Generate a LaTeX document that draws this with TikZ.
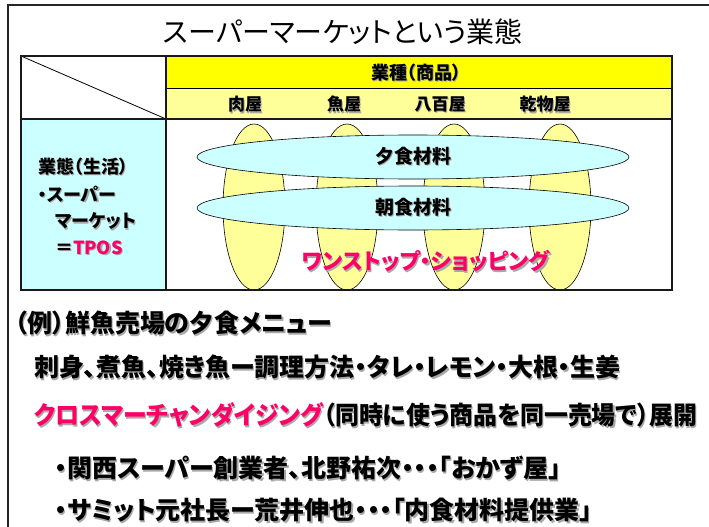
\documentclass[tikz,border=0pt]{standalone}
\usepackage{fontspec}
\usepackage{graphicx}
\setmainfont{Noto Sans CJK JP}[RawFeature=+palt]
\usetikzlibrary{shapes.geometric}
\definecolor{yel}{HTML}{FFFF00}
\definecolor{lyel}{HTML}{FFFF99}
\definecolor{cyn}{HTML}{CCFFFF}
\definecolor{mag}{HTML}{FF0066}
\definecolor{shdc}{HTML}{A8A8A8}
\newcommand\shtxt[2][black]{\rlap{\kern1.2pt\raisebox{-1.2pt}{\textcolor{shdc}{#2}}}\textcolor{#1}{#2}}
\tikzset{
  txt/.style={inner sep=0pt, outer sep=0pt, font=\bfseries},
  body/.style={txt, anchor=west, font=\fontsize{25}{25}\bfseries\selectfont},
  head/.style={txt, font=\fontsize{17}{17}\bfseries\selectfont},
  side/.style={txt, anchor=west, font=\fontsize{18}{18}\bfseries\selectfont},
  colell/.style={draw=black, line width=0.6pt, fill=lyel},
  rowell/.style={ellipse, draw=black, line width=0.6pt, fill=cyn, inner sep=0pt,
    minimum width=432pt, minimum height=44pt, font=\fontsize{19}{19}\bfseries\selectfont},
  frame/.style={line width=2.5pt, black!90}
}
\begin{document}
\begin{tikzpicture}[x=1pt,y=-1pt]
\useasboundingbox (0,0) rectangle (709,527);
\fill[white] (0,0) rectangle (709,527);
% outer frame
\draw[line width=2pt, black!85] (709,5) -- (8,5) -- (8,527);
% title
\node[inner sep=0pt, font=\fontsize{28}{28}\selectfont] (title) at (343,32) {スーパーマーケットという業態};
% table fills
\fill[yel] (166,56) rectangle (672,88);
\fill[lyel] (166,88) rectangle (672,119);
\fill[cyn] (21,119) rectangle (166,290);
\draw[line width=0.8pt] (166,88) -- (672,88);
\draw[line width=0.8pt] (21,56) -- (166,119);
% column ellipses
\foreach \cx in {254,347,454,560} {
  \draw[colell] (\cx,207) ellipse [x radius=31, y radius=83];
}
% row ellipses
\node[rowell] (yu) at (413,157) {\shtxt{夕食材料}};
\node[rowell] (asa) at (413,208) {\shtxt{朝食材料}};
% table borders
\draw[frame] (21,56) rectangle (672,290);
\draw[frame] (166,56) -- (166,290);
\draw[frame] (21,119) -- (672,119);
% header texts
\node[head, font=\fontsize{18}{18}\bfseries\selectfont] (gyoshu) at (416,73) {\shtxt{業種（商品）}};
\node[head] (niku) at (245,105) {\shtxt{肉屋}};
\node[head] (sakana) at (344,105) {\shtxt{魚屋}};
\node[head] (yao) at (440,105) {\shtxt{八百屋}};
\node[head] (kanbutsu) at (545,105) {\shtxt{乾物屋}};
% side texts
\node[side] (s1) at (38,167) {\shtxt{業態（生活）}};
\node[side] (s2) at (38,195) {\shtxt{・スーパー}};
\node[side] (s3) at (55,222) {\shtxt{マーケット}};
\node[side] (s4) at (55,248) {\shtxt{＝}\shtxt[mag]{TPOS}};
% one-stop
\node[txt, font=\fontsize{22}{22}\bfseries\selectfont] (onestop) at (426,262) {\shtxt[mag]{ワンストップ・ショッピング}};
% bottom lines
\node[body] (l1) at (15,324) {\shtxt{（例）鮮魚売場の夕食メニュー}};
\node[body] (l2) at (34,368) {\shtxt{刺身、煮魚、焼き魚ー調理方法・タレ・レモン・大根・生姜}};
\node[body] (l3) at (34,416) {\scalebox{0.955}[1]{\shtxt[mag]{クロスマーチャンダイジング}\shtxt{（同時に使う商品を同一売場で）展開}}};
\node[body] (l4) at (55,469) {\shtxt{・関西スーパー創業者、北野祐次・・・「おかず屋」}};
\node[body] (l5) at (55,511) {\shtxt{・サミット元社長ー荒井伸也・・・「内食材料提供業」}};
\end{tikzpicture}
\end{document}
